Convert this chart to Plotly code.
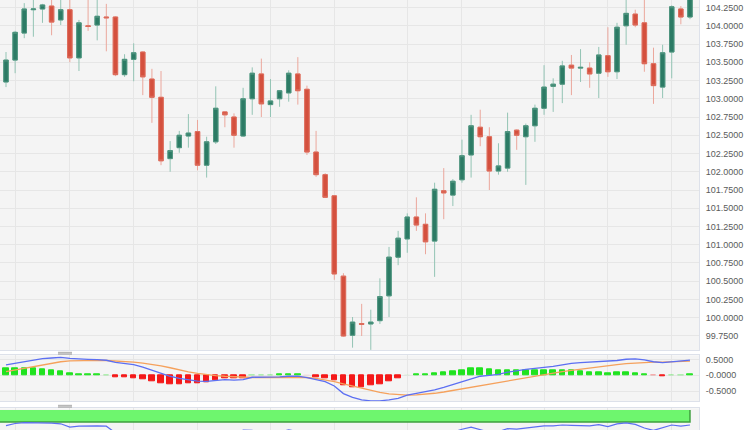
import plotly.graph_objects as go

# ---------------- data ----------------
idx = list(range(1, 77))

open_ = [103.23, 103.53, 103.90, 104.22, 104.23, 104.27, 104.08, 104.22, 103.56, 104.00,
         104.01, 104.12, 104.12, 103.33, 103.54, 103.64, 103.27, 103.02, 102.18, 102.33,
         102.49, 102.55, 102.09, 102.41, 102.82, 102.75, 102.49, 103.00, 103.34, 102.92,
         103.00, 103.08, 103.34, 103.13, 102.27, 101.96, 101.67, 100.57, 99.76, 99.92,
         99.915, 99.96, 100.30, 100.83, 101.08, 101.38, 101.28, 101.05, 101.74, 101.68,
         101.89, 102.23, 102.61, 102.48, 102.01, 102.05, 102.57, 102.48, 102.63, 102.87,
         103.17, 103.20, 103.46, 103.42, 103.42, 103.35, 103.59, 103.37, 104.00, 104.16,
         104.04, 103.48, 103.16, 103.64, 104.23, 104.12]
high = [103.64, 103.93, 104.31, 104.40, 104.30, 104.40, 104.38, 104.42, 104.08, 104.40,
        104.38, 104.30, 104.13, 103.61, 103.76, 103.65, 103.41, 103.38, 102.42, 102.56,
        102.79, 102.71, 102.48, 103.17, 102.83, 102.80, 103.15, 103.43, 103.55, 103.27,
        103.12, 103.39, 103.57, 103.18, 102.56, 101.98, 101.68, 100.61, 100.01, 100.19,
        100.11, 100.54, 100.97, 101.19, 101.43, 101.65, 101.43, 101.85, 102.05, 101.90,
        102.44, 102.78, 102.85, 102.61, 102.39, 102.81, 102.58, 102.66, 102.92, 103.46,
        103.28, 103.52, 103.60, 103.68, 103.50, 103.71, 103.98, 104.04, 104.40, 104.22,
        104.40, 103.70, 103.74, 104.28, 104.27, 104.45]
low = [103.16, 103.35, 103.83, 103.85, 104.04, 103.87, 104.01, 103.50, 103.38, 103.93,
       103.80, 103.65, 103.31, 103.30, 103.24, 103.05, 102.67, 102.09, 102.00, 102.26,
       102.33, 102.02, 101.92, 102.38, 102.61, 102.33, 102.48, 102.78, 102.75, 102.75,
       102.89, 102.96, 102.92, 102.23, 101.93, 101.64, 100.52, 99.74, 99.59, 99.75,
       99.56, 99.915, 100.01, 100.72, 100.89, 101.19, 100.87, 100.56, 101.35, 101.53,
       101.85, 101.92, 102.35, 101.75, 101.96, 102.00, 102.30, 101.82, 102.41, 102.78,
       102.82, 102.94, 103.05, 103.23, 103.15, 103.01, 103.30, 103.27, 103.74, 103.98,
       103.37, 102.93, 103.01, 103.28, 104.02, 104.09]
close = [103.53, 103.91, 104.23, 104.23, 104.285, 104.05, 104.22, 103.56, 104.04, 103.99,
         104.13, 104.11, 103.33, 103.54, 103.63, 103.30, 103.02, 102.15, 102.29, 102.50,
         102.53, 102.09, 102.41, 102.87, 102.78, 102.50, 103.00, 103.35, 102.93, 102.97,
         103.11, 103.35, 103.11, 102.27, 101.96, 101.65, 100.60, 99.75, 99.94, 99.91,
         99.94, 100.29, 100.83, 101.09, 101.38, 101.27, 101.04, 101.76, 101.71, 101.87,
         102.22, 102.63, 102.48, 102.01, 102.08, 102.55, 102.50, 102.63, 102.87, 103.16,
         103.20, 103.45, 103.42, 103.43, 103.34, 103.60, 103.37, 103.98, 104.17, 104.01,
         103.48, 103.18, 103.63, 104.26, 104.12, 104.38]

macd = [0.33, 0.38, 0.45, 0.49, 0.53, 0.55, 0.57, 0.535, 0.51, 0.505,
        0.495, 0.478, 0.41, 0.385, 0.34, 0.26, 0.16, 0.055, -0.03, -0.10,
        -0.135, -0.185, -0.19, -0.16, -0.14, -0.15, -0.14, -0.062, -0.062, -0.058,
        -0.05, -0.03, -0.025, -0.074, -0.14, -0.20, -0.34, -0.58, -0.70, -0.78,
        -0.81, -0.81, -0.78, -0.73, -0.63, -0.58, -0.53, -0.46, -0.38, -0.29,
        -0.21, -0.11, -0.03, 0.0, 0.03, 0.10, 0.15, 0.19, 0.22, 0.24,
        0.28, 0.33, 0.38, 0.40, 0.42, 0.43, 0.44, 0.47, 0.51, 0.52,
        0.49, 0.43, 0.40, 0.43, 0.45, 0.48]
signal = [0.12, 0.17, 0.22, 0.28, 0.34, 0.39, 0.43, 0.46, 0.47, 0.475,
          0.475, 0.47, 0.46, 0.445, 0.42, 0.39, 0.35, 0.30, 0.24, 0.17,
          0.11, 0.06, 0.02, -0.01, -0.03, -0.05, -0.06, -0.07, -0.07, -0.07,
          -0.07, -0.07, -0.065, -0.07, -0.10, -0.14, -0.20, -0.27, -0.34, -0.41,
          -0.48, -0.54, -0.59, -0.62, -0.63, -0.62, -0.60, -0.57, -0.53, -0.48,
          -0.43, -0.38, -0.33, -0.28, -0.22, -0.17, -0.11, -0.06, -0.01, 0.03,
          0.08, 0.12, 0.16, 0.20, 0.24, 0.28, 0.31, 0.34, 0.37, 0.39,
          0.41, 0.42, 0.42, 0.43, 0.44, 0.45]
hist = [0.21, 0.21, 0.23, 0.21, 0.19, 0.16, 0.14, 0.075, 0.04, 0.03,
        0.02, 0.008, -0.05, -0.06, -0.08, -0.13, -0.19, -0.245, -0.27, -0.27,
        -0.245, -0.245, -0.21, -0.15, -0.11, -0.10, -0.08, 0.008, 0.008, 0.012,
        0.02, 0.04, 0.04, -0.003, -0.05, -0.08, -0.17, -0.33, -0.37, -0.37,
        -0.33, -0.27, -0.19, -0.11, 0.002, 0.03, 0.03, 0.07, 0.10, 0.13,
        0.16, 0.23, 0.23, 0.18, 0.15, 0.16, 0.16, 0.16, 0.15, 0.15,
        0.15, 0.15, 0.16, 0.13, 0.10, 0.09, 0.07, 0.08, 0.09, 0.07,
        0.02, -0.008, -0.03, 0.008, 0.008, 0.02]
rsi = [74, 77.5, 79, 79, 78.5, 78, 77, 71.5, 73, 73.5,
       73.5, 73, 62, 63, 63.5, 60, 55, 45, 47, 50,
       51, 46, 50, 58, 57, 54, 66.5, 66, 60, 61,
       63, 67, 64, 52, 47, 43, 33, 26, 30, 30,
       31, 40, 49, 53, 57, 55, 52, 61, 60, 63,
       68, 71.5, 68.5, 63, 64, 69, 68, 70, 72, 73.5,
       73.5, 75, 74.5, 74.5, 73.5, 75.5, 72.5, 77, 78.5, 76,
       70, 66, 70, 75, 73, 75]

price_ticks = [99.75, 100.0, 100.25, 100.5, 100.75, 101.0, 101.25, 101.5, 101.75, 102.0,
               102.25, 102.5, 102.75, 103.0, 103.25, 103.5, 103.75, 104.0, 104.25]
macd_tickvals = [0.5, 0.0, -0.5]
macd_ticktext = ["0.5000", "-0.0000", "-0.5000"]
rsi_band = [80, 100]
grid_idx = [2, 8, 15, 22, 30, 37, 45, 51, 60, 67, 74]

# ---------------- style ----------------
W, H = 750, 430
UP_BODY, DN_BODY = "#2c7b65", "#d4503e"
UP_EDGE, DN_EDGE = "#4f947f", "#dd6c5c"
UP_WICK, DN_WICK = "#93c4b4", "#eba79c"
HIST_UP, HIST_DN = "#1fe31f", "#f41818"
BLUE, ORANGE = "#5c6ff2", "#f5a15c"
BG, GRID, BORDER = "#f4f4f4", "#e6e6e6", "#dde1ea"
FONT = dict(family="Liberation Sans, Arial, sans-serif", size=9, color="#5a5a5a")


def py(p):  # pixel (from top) -> paper fraction
    return 1 - p / H


fig = go.Figure()

# wicks (full range, light)
fig.add_trace(go.Candlestick(
    x=idx, open=open_, high=high, low=low, close=close,
    increasing=dict(line=dict(color=UP_WICK, width=1), fillcolor=UP_WICK),
    decreasing=dict(line=dict(color=DN_WICK, width=1), fillcolor=DN_WICK),
    whiskerwidth=0, hoverinfo="skip", showlegend=False, xaxis="x", yaxis="y"))
# bodies (dark) on top
body_hi = [max(o, c) for o, c in zip(open_, close)]
body_lo = [min(o, c) for o, c in zip(open_, close)]
fig.add_trace(go.Candlestick(
    x=idx, open=open_, high=body_hi, low=body_lo, close=close,
    increasing=dict(line=dict(color=UP_EDGE, width=1), fillcolor=UP_BODY),
    decreasing=dict(line=dict(color=DN_EDGE, width=1), fillcolor=DN_BODY),
    whiskerwidth=0, hoverinfo="skip", showlegend=False, xaxis="x", yaxis="y"))

# MACD histogram
hcol = [HIST_UP if v >= 0 else HIST_DN for v in hist]
hop = [1.0 if abs(v) >= 0.015 else (0.35 if abs(v) >= 0.005 else 0.06) for v in hist]
fig.add_trace(go.Bar(
    x=idx, y=hist, width=0.6,
    marker=dict(color=hcol, opacity=hop, line=dict(color=hcol, width=1)),
    showlegend=False, hoverinfo="skip", xaxis="x2", yaxis="y2"))
fig.add_trace(go.Scatter(x=idx, y=signal, mode="lines", line=dict(color=ORANGE, width=1.3),
                         showlegend=False, hoverinfo="skip", xaxis="x2", yaxis="y2"))
fig.add_trace(go.Scatter(x=idx, y=macd, mode="lines", line=dict(color=BLUE, width=1.3),
                         showlegend=False, hoverinfo="skip", xaxis="x2", yaxis="y2"))

# RSI panel band + line
x0, x1 = idx[0] - 1, idx[-1]
fig.add_trace(go.Scatter(
    x=[x0, x1, x1, x0], y=[rsi_band[0], rsi_band[0], rsi_band[1], rsi_band[1]],
    fill="toself", fillcolor="#6ef66e", mode="lines", line=dict(width=0),
    showlegend=False, hoverinfo="skip", xaxis="x3", yaxis="y3"))
fig.add_trace(go.Scatter(
    x=[x0, x1, x1], y=[rsi_band[0], rsi_band[0], rsi_band[1]],
    mode="lines", line=dict(color="#3e9f3e", width=1.5),
    showlegend=False, hoverinfo="skip", xaxis="x3", yaxis="y3"))
fig.add_trace(go.Scatter(x=idx, y=rsi, mode="lines", line=dict(color=BLUE, width=1.2),
                         showlegend=False, hoverinfo="skip", xaxis="x3", yaxis="y3"))

xdom = [0, 699 / W]
xr = [0.342, 76.99]
xcommon = dict(domain=xdom, range=xr, showticklabels=False, ticks="",
               tickmode="array", tickvals=grid_idx, showgrid=True, gridcolor=GRID,
               gridwidth=1, zeroline=False, showline=True, mirror=True,
               linecolor=BORDER, linewidth=1, fixedrange=True)

fig.update_layout(
    width=W, height=H, margin=dict(l=0, r=0, t=0, b=0),
    paper_bgcolor="white", plot_bgcolor=BG, template="none",
    font=FONT, showlegend=False, bargap=0,
    xaxis=dict(**xcommon, anchor="y", rangeslider=dict(visible=False)),
    xaxis2=dict(**xcommon, anchor="y2", matches="x"),
    xaxis3=dict(**xcommon, anchor="y3", matches="x"),
    yaxis=dict(domain=[py(350), 1], range=[99.558, 104.353], side="right", anchor="x",
               tickmode="array", tickvals=price_ticks, tickformat=".4f",
               ticks="outside", ticklen=4, tickcolor="rgba(0,0,0,0)",
               showgrid=True, gridcolor=GRID, zeroline=False, automargin=False,
               showline=True, mirror=True, linecolor=BORDER, tickfont=FONT),
    yaxis2=dict(domain=[py(401.3), py(355.3)], range=[-0.825, 0.635], side="right",
                anchor="x2", tickmode="array", tickvals=macd_tickvals,
                ticktext=macd_ticktext, ticks="outside", ticklen=4,
                tickcolor="rgba(0,0,0,0)", showgrid=True, gridcolor=GRID,
                zeroline=False, automargin=False, showline=True, mirror=True,
                linecolor=BORDER, tickfont=FONT),
    yaxis3=dict(domain=[0, py(408.3)], range=[66.7, 102.8], side="right", anchor="x3",
                showticklabels=False, showgrid=False, zeroline=False, automargin=False,
                showline=True, mirror=True, linecolor=BORDER),
)

# pane resize grips
for top in (351.8, 404.8):
    fig.add_shape(type="rect", xref="paper", yref="paper",
                  x0=58 / W, x1=72 / W, y0=py(top + 3), y1=py(top),
                  fillcolor="#b3b3b3", line=dict(width=0), layer="above")
    fig.add_shape(type="line", xref="paper", yref="paper",
                  x0=58 / W, x1=72 / W, y0=py(top + 1.5), y1=py(top + 1.5),
                  line=dict(color="#d0d0d0", width=0.8), layer="above")

fig.write_html(
    "out.html",
    config={"displayModeBar": False},
    post_script="document.body.style.margin='0';document.body.style.overflow='hidden';",
)
